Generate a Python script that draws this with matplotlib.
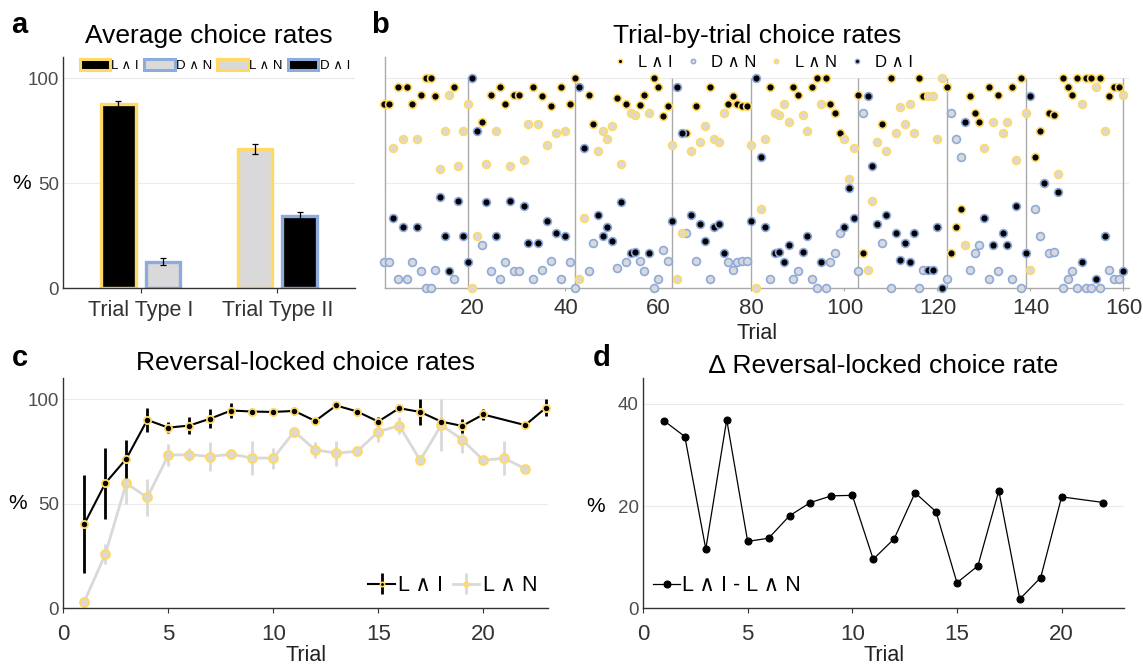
import numpy as np
import matplotlib
matplotlib.use("Agg")
import matplotlib.pyplot as plt
from matplotlib.patches import Patch
from matplotlib.lines import Line2D

plt.rcParams['font.family'] = ['Liberation Sans', 'DejaVu Sans']

# ---------------- data ----------------
YELLOW = '#FFD966'
BLUE = '#8FAADC'
GREY = '#D9D9D9'

# panel a
bar_series = ['L ∧ I', 'D ∧ N', 'L ∧ N', 'D ∧ I']
bar_group = [0, 0, 1, 1]
bar_means = [87.6, 12.6, 66.3, 34.3]
bar_errs = [1.6, 1.6, 2.3, 1.8]
group_labels = ['Trial Type I', 'Trial Type II']

# panel b: trial type (1 = L∧I / D∧N trial, 2 = L∧N / D∧I trial)
trial_type = [
    1, 1, 2, 1, 2, 1, 1, 2, 1, 1,
    1, 1, 2, 2, 2, 1, 2, 2, 2, 2,
    2, 1, 2, 1, 2, 1, 1, 2, 1, 1,
    2, 2, 1, 2, 1, 2, 1, 2, 1, 2,
    1, 1, 2, 2, 1, 1, 2, 2, 2, 2,
    1, 2, 1, 2, 2, 1, 1, 2, 1, 1,
    1, 1, 2, 2, 2, 1, 2, 1, 2, 2,
    1, 2, 2, 2, 1, 1, 1, 1, 1, 2,
    2, 2, 2, 1, 2, 2, 2, 2, 1, 1,
    2, 2, 1, 1, 2, 1, 1, 1, 1, 2,
    2, 2, 1, 1, 2, 2, 2, 1, 2, 1,
    2, 2, 2, 2, 2, 1, 1, 2, 2, 2,
    2, 1, 1, 1, 1, 2, 1, 1, 1, 2,
    1, 2, 1, 2, 2, 1, 2, 1, 2, 2,
    1, 1, 2, 1, 1, 2, 1, 1, 1, 1,
    2, 1, 1, 2, 1, 2, 1, 1, 1, 2,
]
# choice rate of the L option on each trial
l_rate = [
    87.5, 87.5, 66.7, 95.8, 70.8, 95.8, 87.5, 70.8, 91.7, 100,
    100, 91.3, 56.5, 75.0, 91.7, 95.8, 58.3, 75.0, 87.5, 0,
    25.0, 79.2, 59.1, 91.7, 75.0, 95.8, 87.5, 58.3, 91.7, 91.7,
    60.9, 78.3, 95.8, 78.3, 91.3, 68.2, 86.9, 73.9, 95.5, 75.0,
    87.5, 100, 4.5, 33.3, 91.7, 78.3, 65.2, 75.0, 70.8, 77.3,
    90.5, 59.1, 87.5, 83.3, 82.6, 87.0, 91.7, 83.3, 100, 95.5,
    81.8, 86.9, 68.2, 4.2, 26.1, 73.9, 65.2, 86.9, 69.6, 77.3,
    95.8, 70.8, 69.6, 83.3, 87.5, 91.3, 87.5, 86.9, 86.9, 68.2,
    0, 37.5, 70.8, 95.8, 83.3, 82.6, 87.5, 79.2, 95.8, 91.7,
    82.6, 75.0, 95.8, 100, 87.5, 100, 87.5, 83.3, 73.9, 70.8,
    52.2, 66.7, 91.7, 16.7, 8.7, 41.7, 69.6, 78.3, 65.2, 100,
    73.9, 86.4, 78.3, 87.5, 73.9, 100, 91.3, 91.3, 91.3, 70.8,
    100, 95.8, 16.7, 29.2, 37.5, 20.8, 91.3, 83.3, 79.2, 66.7,
    95.8, 79.2, 91.7, 73.9, 79.2, 95.8, 60.9, 100, 83.3, 8.7,
    62.5, 75.0, 50.0, 83.3, 82.6, 54.2, 100, 95.8, 91.7, 100,
    87.5, 100, 100, 95.8, 100, 75.0, 91.3, 95.8, 95.8, 91.7,
]
# choice rate of the D option on each trial
d_rate = [
    12.5, 12.5, 33.3, 4.2, 29.2, 4.2, 12.5, 29.2, 8.3, 0,
    0, 8.7, 43.5, 25.0, 8.3, 4.2, 41.7, 25.0, 12.5, 100,
    75.0, 20.8, 40.9, 8.3, 25.0, 4.2, 12.5, 41.7, 8.3, 8.3,
    39.1, 21.7, 4.2, 21.7, 8.7, 31.8, 13.1, 26.1, 4.5, 25.0,
    12.5, 0, 95.5, 66.7, 8.3, 21.7, 34.8, 25.0, 29.2, 22.7,
    9.5, 40.9, 12.5, 16.7, 17.4, 13.0, 8.3, 16.7, 0, 4.5,
    18.2, 13.1, 31.8, 95.8, 73.9, 26.1, 34.8, 13.1, 30.4, 22.7,
    4.2, 29.2, 30.4, 16.7, 12.5, 8.7, 12.5, 13.1, 13.1, 31.8,
    100, 62.5, 29.2, 4.2, 16.7, 17.4, 12.5, 20.8, 4.2, 8.3,
    17.4, 25.0, 4.2, 0, 12.5, 0, 12.5, 16.7, 26.1, 29.2,
    47.8, 33.3, 8.3, 83.3, 91.3, 58.3, 30.4, 21.7, 34.8, 0,
    26.1, 13.6, 21.7, 12.5, 26.1, 0, 8.7, 8.7, 8.7, 29.2,
    0, 4.2, 83.3, 70.8, 62.5, 79.2, 8.7, 16.7, 20.8, 33.3,
    4.2, 20.8, 8.3, 26.1, 20.8, 4.2, 39.1, 0, 16.7, 91.3,
    37.5, 25.0, 50.0, 16.7, 17.4, 45.8, 0, 4.2, 8.3, 0,
    12.5, 0, 0, 4.2, 0, 25.0, 8.7, 4.2, 4.2, 8.3,
]
reversal_trials = [19, 42, 63, 80, 103, 122, 139, 160]
b_ticks = [20, 40, 60, 80, 100, 120, 140, 160]

# panel c
li_trials = [1, 2, 3, 4, 5, 6, 7, 8, 9, 10, 11, 12, 13, 14, 15, 16, 17, 18, 19, 20, 22, 23]
li_mean = [40.3, 59.8, 71.5, 90.1, 86.4, 87.4, 90.7, 94.6, 94.1, 93.9, 94.4,
           89.6, 97.0, 94.1, 89.3, 95.7, 93.9, 89.3, 87.2, 92.7, 87.6, 96.0]
li_err = [23.5, 17.0, 9.0, 5.8, 2.6, 4.0, 4.6, 3.6, 1.0, 1.0, 2.0,
          1.0, 1.0, 1.5, 2.0, 2.0, 6.4, 1.5, 3.5, 2.8, 1.0, 4.0]
ln_trials = [1, 2, 3, 4, 5, 6, 7, 8, 9, 10, 11, 12, 13, 14, 15, 16, 17, 18, 19, 20, 21, 22]
ln_mean = [3.2, 25.8, 59.8, 53.0, 73.2, 73.5, 72.6, 73.7, 71.9, 71.8, 84.5,
           75.8, 74.2, 75.1, 84.4, 87.4, 70.8, 87.6, 80.7, 70.8, 71.8, 66.7]
ln_err = [1.0, 4.8, 10.0, 8.8, 5.3, 3.0, 7.0, 1.5, 8.0, 5.0, 2.0,
          3.7, 6.0, 1.5, 5.0, 4.0, 2.0, 12.5, 6.4, 1.0, 8.0, 1.0]

# panel d
diff_trials = [1, 2, 3, 4, 5, 6, 7, 8, 9, 10, 11, 12, 13, 14, 15, 16, 17, 18, 19, 20, 22]
diff_vals = [36.7, 33.6, 11.6, 36.9, 13.1, 13.7, 18.1, 20.7, 22.0, 22.1, 9.6,
             13.6, 22.6, 18.9, 5.0, 8.3, 23.0, 1.8, 6.0, 21.8, 20.7]

# ---------------- figure ----------------
W, H = 1143, 665
fig = plt.figure(figsize=(W / 100, H / 100), dpi=100)


def px_axes(l, t, r, b):
    return fig.add_axes([l / W, 1 - b / H, (r - l) / W, (b - t) / H])


TICKC = '#4d4d4d'
SPINEC = '#333333'
GRIDC = '#ebebeb'


def style(ax, spinec=SPINEC, xpad=4):
    for s in ['top', 'right']:
        ax.spines[s].set_visible(False)
    for s in ['left', 'bottom']:
        ax.spines[s].set_color(spinec)
        ax.spines[s].set_linewidth(1.0)
    ax.yaxis.grid(True, color=GRIDC, lw=0.8)
    ax.set_axisbelow(True)
    ax.tick_params(axis='y', length=0, pad=3, labelcolor=TICKC, labelsize=13.5)
    ax.tick_params(axis='x', length=3.5, width=0.8, color=SPINEC, labelcolor='#333333',
                   labelsize=16, pad=xpad)


axA = px_axes(63, 57, 355, 288.3)
axB = px_axes(385, 57, 1129, 288.3)
axC = px_axes(63.3, 378.3, 548.3, 608.3)
axD = px_axes(643, 378.3, 1124.4, 608.3)

# ---- panel a ----
style(axA, xpad=5)
face = {'L ∧ I': 'black', 'D ∧ N': GREY, 'L ∧ N': GREY, 'D ∧ I': 'black'}
edge = {'L ∧ I': YELLOW, 'D ∧ N': BLUE, 'L ∧ N': YELLOW, 'D ∧ I': BLUE}
offs = [-0.164, 0.164, -0.164, 0.164]
for name, g, m, e, o in zip(bar_series, bar_group, bar_means, bar_errs, offs):
    axA.bar(g + o, m, width=0.253, color=face[name], edgecolor=edge[name], linewidth=2.4,
            yerr=e, error_kw=dict(ecolor='black', elinewidth=0.9, capsize=2.5, capthick=0.9),
            zorder=2)
axA.set_xlim(-0.57, 1.57)
axA.set_ylim(0, 110)
axA.set_yticks([0, 50, 100])
axA.set_xticks([0, 1])
axA.set_xticklabels(group_labels)
axA.tick_params(axis='x', labelsize=15.5)
axA.set_ylabel('%', rotation=0, fontsize=15, ha='right', va='center')
axA.yaxis.set_label_coords(-0.11, 50 / 110)
axA.set_title('Average choice rates', fontsize=19, pad=10)
handlesA = [Patch(facecolor=face[n], edgecolor=edge[n], linewidth=2.2) for n in bar_series]
axA.legend(handlesA, bar_series, loc='center', bbox_to_anchor=(0.52, 0.963), ncol=4,
           frameon=False, fontsize=9.5, handlelength=2.3, handleheight=0.9,
           handletextpad=0.1, columnspacing=0.4, borderpad=0, borderaxespad=0)

# ---- panel b ----
style(axB, spinec='#aaaaaa', xpad=5)
trials = np.arange(1, len(trial_type) + 1)
tt = np.array(trial_type)
lr = np.array(l_rate)
dr = np.array(d_rate)
series_b = [
    ('L ∧ I', tt == 1, lr, 'black', YELLOW),
    ('D ∧ N', tt == 1, dr, GREY, BLUE),
    ('L ∧ N', tt == 2, lr, GREY, YELLOW),
    ('D ∧ I', tt == 2, dr, 'black', BLUE),
]
for name, mask, vals, fc, ec in series_b:
    axB.scatter(trials[mask], vals[mask], s=32, c=fc, edgecolors=ec, linewidths=1.2,
                clip_on=False, zorder=3)
axB.vlines(reversal_trials, 0, 100, color='#aaaaaa', lw=1.0, zorder=1)
axB.set_xlim(1.2, 161.2)
axB.set_ylim(0, 110)
axB.set_yticks([50, 100])
axB.set_yticklabels([])
axB.set_xticks(b_ticks)
axB.tick_params(axis='x', length=2, color='#aaaaaa')
axB.set_xlabel('Trial', fontsize=15.5, labelpad=3, color='#222222')
axB.set_title('Trial-by-trial choice rates', fontsize=19, pad=10)
handlesB = [Line2D([], [], ls='none', marker='o', ms=3.2, mfc=fc, mec=ec, mew=1.0)
            for _, _, _, fc, ec in series_b]
axB.legend(handlesB, [s[0] for s in series_b], loc='center', bbox_to_anchor=(0.507, 0.975),
           ncol=4, frameon=False, fontsize=12, handlelength=1.0, handletextpad=0.6,
           columnspacing=0.7, borderpad=0, borderaxespad=0)

# ---- panel c ----
style(axC, xpad=8)
axC.errorbar(ln_trials, ln_mean, yerr=ln_err, color=GREY, lw=2.0, marker='o', ms=6.4,
             mfc=GREY, mec=YELLOW, mew=1.4, elinewidth=2.0, capsize=0,
             clip_on=False, zorder=2)
axC.errorbar(li_trials, li_mean, yerr=li_err, color='black', lw=1.5, marker='o', ms=5.2,
             mfc='black', mec=YELLOW, mew=1.3, elinewidth=2.0, capsize=0,
             clip_on=False, zorder=3)
# legend proxies (no data drawn)
hLI = axC.errorbar([np.nan], [np.nan], yerr=[1], color='black', lw=1.5, marker='o', ms=3.2,
                   mfc='black', mec=YELLOW, mew=1.1, elinewidth=2.0, capsize=0)
hLN = axC.errorbar([np.nan], [np.nan], yerr=[1], color=GREY, lw=2.0, marker='o', ms=3.4,
                   mfc=GREY, mec=YELLOW, mew=1.1, elinewidth=2.0, capsize=0)
axC.set_xlim(0, 23.1)
axC.set_ylim(0, 110)
axC.set_yticks([0, 50, 100])
axC.set_xticks([0, 5, 10, 15, 20])
axC.set_xlabel('Trial', fontsize=15.5, labelpad=0, color='#222222')
axC.set_ylabel('%', rotation=0, fontsize=15, ha='right', va='center')
axC.yaxis.set_label_coords(-0.075, 50 / 110)
axC.set_title('Reversal-locked choice rates', fontsize=19, pad=6)
axC.legend([hLI, hLN], ['L ∧ I', 'L ∧ N'], loc='center right',
           bbox_to_anchor=(0.977, (608.3 - 585.7) / 230), ncol=2,
           frameon=False, fontsize=15.5, handlelength=1.25, handletextpad=0.15,
           columnspacing=0.42, borderpad=0, borderaxespad=0)

# ---- panel d ----
style(axD, xpad=8)
axD.plot(diff_trials, diff_vals, color='black', lw=0.9, marker='o', ms=5.0, mew=0.8,
         clip_on=False, zorder=3)
hD = Line2D([], [], color='black', lw=0.9, marker='o', ms=5.0, mew=0.8)
axD.set_xlim(0, 23)
axD.set_ylim(0, 45)
axD.set_yticks([0, 20, 40])
axD.set_xticks([0, 5, 10, 15, 20])
axD.set_xlabel('Trial', fontsize=15.5, labelpad=0, color='#222222')
axD.set_ylabel('%', rotation=0, fontsize=15, ha='right', va='center')
axD.yaxis.set_label_coords(-0.079, 20 / 45)
axD.set_title('∆ Reversal-locked choice rate', fontsize=19, pad=1)
axD.legend([hD], ['L ∧ I - L ∧ N'], loc='center left',
           bbox_to_anchor=(0.021, (608.3 - 585.7) / 230), frameon=False, fontsize=15.5,
           handlelength=1.25, handletextpad=0.1, borderpad=0, borderaxespad=0)

# panel letters
for letter, x, y in [('a', 11, 33), ('b', 371, 33), ('c', 12, 366), ('d', 593, 366)]:
    fig.text(x / W, 1 - y / H, letter, fontsize=21, fontweight='bold', ha='left', va='baseline')

fig.savefig('out.png', dpi=100)
